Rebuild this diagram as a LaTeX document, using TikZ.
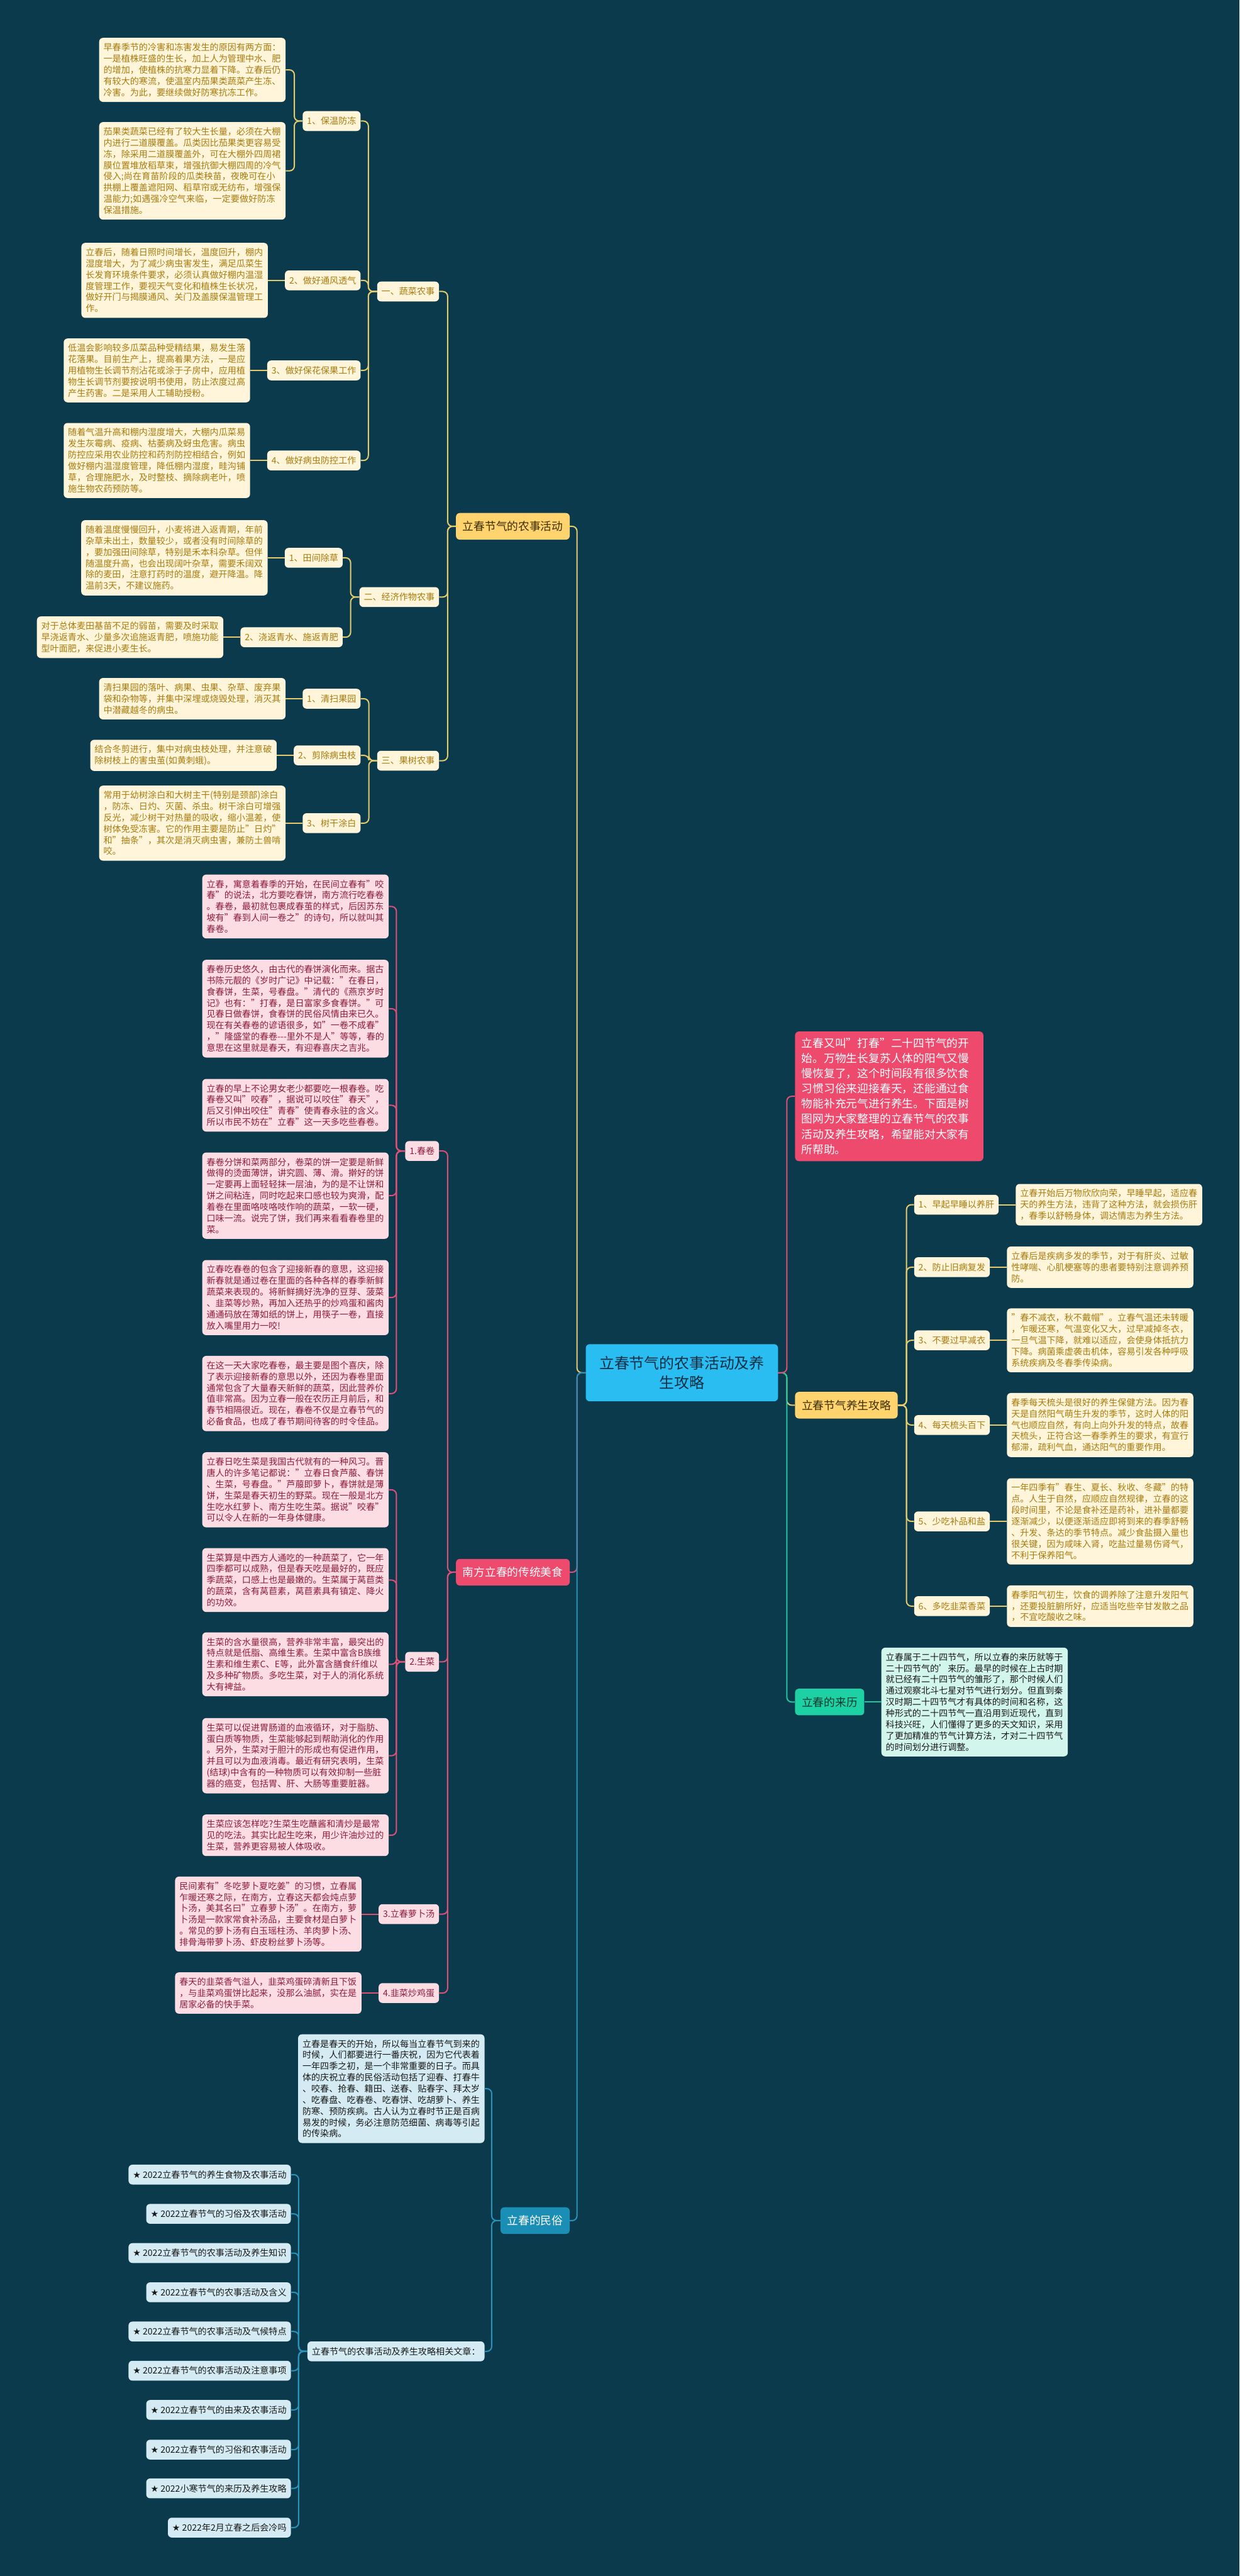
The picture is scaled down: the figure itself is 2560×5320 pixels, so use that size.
\documentclass[tikz,border=0pt]{standalone}
\usepackage{fontspec}
\setmainfont{Noto Sans CJK SC}
\newfontfamily\symf{DejaVu Sans}
\XeTeXlinebreaklocale "zh"
\XeTeXlinebreakskip=0pt plus 0.3pt
\newcount\cjkcnt
\cjkcnt="3000
\loop \XeTeXcharclass\cjkcnt=1 \advance\cjkcnt by 1 \ifnum\cjkcnt<"3040 \repeat
\cjkcnt="4E00
\loop \XeTeXcharclass\cjkcnt=1 \advance\cjkcnt by 1 \ifnum\cjkcnt<"A000 \repeat
\cjkcnt="FF00
\loop \XeTeXcharclass\cjkcnt=1 \advance\cjkcnt by 1 \ifnum\cjkcnt<"FFF0 \repeat
\XeTeXinterchartokenstate=1
\newcommand\cjkbrk{\hskip0pt plus 0.3pt\relax}
\XeTeXinterchartoks 1 1 = {\cjkbrk}
\XeTeXinterchartoks 0 1 = {\cjkbrk}
\XeTeXinterchartoks 1 0 = {\cjkbrk}
\usetikzlibrary{positioning}
\definecolor{bgc}{HTML}{0A3A4C}
\definecolor{cream}{HTML}{FEF5DA}
\definecolor{goldT}{HTML}{A77B0E}
\definecolor{lnYc}{HTML}{E5CB6B}
\definecolor{goldB}{HTML}{FFD36E}
\definecolor{brownT}{HTML}{3D2E00}
\definecolor{pinkB}{HTML}{EE4A6E}
\definecolor{pinkL}{HTML}{FDDDE4}
\definecolor{pinkT}{HTML}{8C1C3C}
\definecolor{lnPc}{HTML}{E04F76}
\definecolor{blueB}{HTML}{1A8EB4}
\definecolor{blueL}{HTML}{D4EBF3}
\definecolor{lnBc}{HTML}{2A93BA}
\definecolor{mintB}{HTML}{1ED1A5}
\definecolor{mintL}{HTML}{D2F5EC}
\definecolor{mintT}{HTML}{0B3A2E}
\definecolor{lnMc}{HTML}{20C79E}
\definecolor{cenB}{HTML}{2ABDF2}
\definecolor{cenT}{HTML}{0D2F45}
\newcommand\fsA{\fontsize{18.3pt}{23.2pt}\selectfont}
\newcommand\fsB{\fontsize{23pt}{31.2pt}\selectfont}
\newcommand\fsC{\fontsize{31pt}{40pt}\selectfont}
\tikzset{
  leafbase/.style={rounded corners=8pt, inner xsep=9pt, inner ysep=11pt, font=\fsA, text width=367pt, align=left},
  labbase/.style={rounded corners=8pt, inner xsep=9pt, inner ysep=3pt, minimum height=41pt, font=\fsA},
  cleaf/.style={leafbase, fill=cream, text=goldT},
  clab/.style={labbase, fill=cream, text=goldT},
  pleaf/.style={leafbase, fill=pinkL, text=pinkT},
  plab/.style={labbase, fill=pinkL, text=pinkT},
  bleaf/.style={leafbase, fill=blueL, text=black!90},
  blab/.style={labbase, fill=blueL, text=black!90},
  mleaf/.style={leafbase, fill=mintL, text=black!90},
  brnode/.style={rounded corners=8pt, inner xsep=14pt, inner ysep=3pt, minimum height=55pt, font=\fsB},
  lnY/.style={draw=lnYc, line width=2.6pt, rounded corners=10pt},
  lnP/.style={draw=lnPc, line width=2.6pt, rounded corners=10pt},
  lnB/.style={draw=lnBc, line width=2.6pt, rounded corners=10pt},
  lnM/.style={draw=lnMc, line width=2.6pt, rounded corners=10pt},
}
\begin{document}
\begin{tikzpicture}[x=1pt,y=-1pt]
\useasboundingbox (0,0) rectangle (2560,5320);
\fill[bgc] (0,0) rectangle (2560,5320);

% central
\node[fill=cenB, text=cenT, rounded corners=8pt, minimum width=397pt, minimum height=118pt, font=\fsC, align=center] (c) at (1408.5,2835) {立春节气的农事活动及养\\生攻略};

% ===== branch 1: 农事活动 =====
\node[brnode, fill=goldB, text=brownT, anchor=east] (nz) at (1177,1087) {立春节气的农事活动};
\node[clab, anchor=east] (n1) at (907,602) {一、蔬菜农事};
\node[clab, anchor=east] (n2) at (907,1233) {二、经济作物农事};
\node[clab, anchor=east] (n3) at (907,1571) {三、果树农事};
\node[clab, anchor=east] (l11) at (745,250) {1、保温防冻};
\node[clab, anchor=east] (l12) at (745,579) {2、做好通风透气};
\node[clab, anchor=east] (l13) at (745,765) {3、做好保花保果工作};
\node[clab, anchor=east] (l14) at (745,951) {4、做好病虫防控工作};
\node[clab, anchor=east] (l21) at (708,1152) {1、田间除草};
\node[clab, anchor=east] (l22) at (708,1316) {2、浇返青水、施返青肥};
\node[clab, anchor=east] (l31) at (745,1443) {1、清扫果园};
\node[clab, anchor=east] (l32) at (745,1560) {2、剪除病虫枝};
\node[clab, anchor=east] (l33) at (745,1700) {3、树干涂白};

\node[cleaf, anchor=north east] (a1) at (590,78) {早春季节的冷害和冻害发生的原因有两方面：一是植株旺盛的生长，加上人为管理中水、肥的增加，使植株的抗寒力显着下降。立春后仍有较大的寒流，使温室内茄果类蔬菜产生冻、冷害。为此，要继续做好防寒抗冻工作。};
\node[cleaf, anchor=north east] (a2) at (590,252) {茄果类蔬菜已经有了较大生长量，必须在大棚内进行二道膜覆盖。瓜类因比茄果类更容易受冻，除采用二道膜覆盖外，可在大棚外四周裙膜位置堆放稻草束，增强抗御大棚四周的冷气侵入;尚在育苗阶段的瓜类秧苗，夜晚可在小拱棚上覆盖遮阳网、稻草帘或无纺布，增强保温能力;如遇强冷空气来临，一定要做好防冻保温措施。};
\node[cleaf, left=35pt of l12] (a3) {立春后，随着日照时间增长，温度回升，棚内湿度增大，为了减少病虫害发生，满足瓜菜生长发育环境条件要求，必须认真做好棚内温湿度管理工作，要视天气变化和植株生长状况，做好开门与揭膜通风、关门及盖膜保温管理工作。};
\node[cleaf, left=35pt of l13] (a4) {低温会影响较多瓜菜品种受精结果，易发生落花落果。目前生产上，提高着果方法，一是应用植物生长调节剂沾花或涂于子房中，应用植物生长调节剂要按说明书使用，防止浓度过高产生药害。二是采用人工辅助授粉。};
\node[cleaf, left=35pt of l14] (a5) {随着气温升高和棚内湿度增大，大棚内瓜菜易发生灰霉病、疫病、枯萎病及蚜虫危害。病虫防控应采用农业防控和药剂防控相结合，例如做好棚内温湿度管理，降低棚内湿度，畦沟铺草，合理施肥水，及时整枝、摘除病老叶，喷施生物农药预防等。};
\node[cleaf, left=35pt of l21] (a6) {随着温度慢慢回升，小麦将进入返青期，年前杂草未出土，数量较少，或者没有时间除草的，要加强田间除草，特别是禾本科杂草。但伴随温度升高，也会出现阔叶杂草，需要禾阔双除的麦田，注意打药时的温度，避开降温。降温前3天，不建议施药。};
\node[cleaf, left=35pt of l22] (a7) {对于总体麦田基苗不足的弱苗，需要及时采取早浇返青水、少量多次追施返青肥，喷施功能型叶面肥，来促进小麦生长。};
\node[cleaf, left=35pt of l31] (a8) {清扫果园的落叶、病果、虫果、杂草、废弃果袋和杂物等，并集中深埋或烧毁处理，消灭其中潜藏越冬的病虫。};
\node[cleaf, left=35pt of l32] (a9) {结合冬剪进行，集中对病虫枝处理，并注意破除树枝上的害虫茧(如黄刺蛾)。};
\node[cleaf, left=35pt of l33] (a10) {常用于幼树涂白和大树主干(特别是颈部)涂白，防冻、日灼、灭菌、杀虫。树干涂白可增强反光，减少树干对热量的吸收，缩小温差，使树体免受冻害。它的作用主要是防止"日灼"和"抽条"，其次是消灭病虫害，兼防土兽啃咬。};

\foreach \n in {n1,n2,n3} \draw[lnY] (nz.west) -- ++(-17,0) |- (\n.east);
\foreach \n in {l11,l12,l13,l14} \draw[lnY] (n1.west) -- ++(-18,0) |- (\n.east);
\foreach \n in {l21,l22} \draw[lnY] (n2.west) -- ++(-18,0) |- (\n.east);
\foreach \n in {l31,l32,l33} \draw[lnY] (n3.west) -- ++(-17,0) |- (\n.east);
\foreach \n in {a1,a2} \draw[lnY] (l11.west) -- ++(-17,0) |- (\n.east);
\draw[lnY] (l12.west) -- (a3.east);
\draw[lnY] (l13.west) -- (a4.east);
\draw[lnY] (l14.west) -- (a5.east);
\draw[lnY] (l21.west) -- (a6.east);
\draw[lnY] (l22.west) -- (a7.east);
\draw[lnY] (l31.west) -- (a8.east);
\draw[lnY] (l32.west) -- (a9.east);
\draw[lnY] (l33.west) -- (a10.east);

% ===== branch 2: 美食 =====
\node[brnode, fill=pinkB, text=white, anchor=east] (nm) at (1177,3247) {南方立春的传统美食};
\node[plab, anchor=east] (m1) at (907,2377) {1.春卷};
\node[plab, anchor=east] (m2) at (907,3432) {2.生菜};
\node[plab, anchor=east] (m3) at (907,3953) {3.立春萝卜汤};
\node[plab, anchor=east] (m4) at (907,4116) {4.韭菜炒鸡蛋};

\node[pleaf, anchor=north east] (b1) at (803,1806) {立春，寓意着春季的开始，在民间立春有"咬春"的说法，北方要吃春饼，南方流行吃春卷。春卷，最初就包裹成春茧的样式，后因苏东坡有"春到人间一卷之"的诗句，所以就叫其春卷。};
\node[pleaf, anchor=north east] (b2) at (803,1982) {春卷历史悠久，由古代的春饼演化而来。据古书陈元靓的《岁时广记》中记载："在春日，食春饼，生菜，号春盘。"清代的《燕京岁时记》也有："打春，是日富家多食春饼。"可见春日做春饼，食春饼的民俗风情由来已久。现在有关春卷的谚语很多，如"一卷不成春"，"隆盛堂的春卷-{}-{}-里外不是人"等等，春的意思在这里就是春天，有迎春喜庆之吉兆。};
\node[pleaf, anchor=north east] (b3) at (803,2228) {立春的早上不论男女老少都要吃一根春卷。吃春卷又叫"咬春"，据说可以咬住"春天"，后又引伸出咬住"青春"使青春永驻的含义。所以市民不妨在"立春"这一天多吃些春卷。};
\node[pleaf, anchor=north east] (b4) at (803,2380) {春卷分饼和菜两部分，卷菜的饼一定要是新鲜做得的烫面薄饼，讲究圆、薄、滑。擀好的饼一定要再上面轻轻抹一层油，为的是不让饼和饼之间粘连，同时吃起来口感也较为爽滑，配着卷在里面咯吱咯吱作响的蔬菜，一软一硬，口味一流。说完了饼，我们再来看看春卷里的菜。};
\node[pleaf, anchor=north east] (b5) at (803,2602) {立春吃春卷的包含了迎接新春的意思，这迎接新春就是通过卷在里面的各种各样的春季新鲜蔬菜来表现的。将新鲜摘好洗净的豆芽、菠菜、韭菜等炒熟，再加入还热乎的炒鸡蛋和酱肉通通码放在薄如纸的饼上，用筷子一卷，直接放入嘴里用力一咬!};
\node[pleaf, anchor=north east] (b6) at (803,2800) {在这一天大家吃春卷，最主要是图个喜庆，除了表示迎接新春的意思以外，还因为春卷里面通常包含了大量春天新鲜的蔬菜，因此营养价值非常高。因为立春一般在农历正月前后，和春节相隔很近。现在，春卷不仅是立春节气的必备食品，也成了春节期间待客的时令佳品。};
\node[pleaf, anchor=north east] (b7) at (803,2999) {立春日吃生菜是我国古代就有的一种风习。晋唐人的许多笔记都说："立春日食芦菔、春饼、生菜，号春盘。"芦菔即萝卜，春饼就是薄饼，生菜是春天初生的野菜。现在一般是北方生吃水红萝卜、南方生吃生菜。据说"咬春"可以令人在新的一年身体健康。};
\node[pleaf, anchor=north east] (b8) at (803,3197) {生菜算是中西方人通吃的一种蔬菜了，它一年四季都可以成熟，但是春天吃是最好的，既应季蔬菜，口感上也是最嫩的。生菜属于莴苣类的蔬菜，含有莴苣素，莴苣素具有镇定、降火的功效。};
\node[pleaf, anchor=north east] (b9) at (803,3371) {生菜的含水量很高，营养非常丰富，最突出的特点就是低脂、高维生素。生菜中富含B族维生素和维生素C、E等，此外富含膳食纤维以及多种矿物质。多吃生菜，对于人的消化系统大有裨益。};
\node[pleaf, anchor=north east] (b10) at (803,3548) {生菜可以促进胃肠道的血液循环，对于脂肪、蛋白质等物质，生菜能够起到帮助消化的作用。另外，生菜对于胆汁的形成也有促进作用，并且可以为血液消毒。最近有研究表明，生菜(结球)中含有的一种物质可以有效抑制一些脏器的癌变，包括胃、肝、大肠等重要脏器。};
\node[pleaf, anchor=north east] (b11) at (803,3747) {生菜应该怎样吃?生菜生吃蘸酱和清炒是最常见的吃法。其实比起生吃来，用少许油炒过的生菜，营养更容易被人体吸收。};
\node[pleaf, left=35pt of m3] (b12) {民间素有"冬吃萝卜夏吃姜"的习惯，立春属乍暖还寒之际，在南方，立春这天都会炖点萝卜汤，美其名曰"立春萝卜汤"。在南方，萝卜汤是一款家常食补汤品，主要食材是白萝卜。常见的萝卜汤有白玉瑶柱汤、羊肉萝卜汤、排骨海带萝卜汤、虾皮粉丝萝卜汤等。};
\node[pleaf, left=35pt of m4] (b13) {春天的韭菜香气溢人，韭菜鸡蛋碎清新且下饭，与韭菜鸡蛋饼比起来，没那么油腻，实在是居家必备的快手菜。};

\foreach \n in {m1,m2,m3,m4} \draw[lnP] (nm.west) -- ++(-17,0) |- (\n.east);
\foreach \n in {b1,b2,b3,b4,b5,b6} \draw[lnP] (m1.west) -- ++(-18,0) |- (\n.east);
\foreach \n in {b7,b8,b9,b10,b11} \draw[lnP] (m2.west) -- ++(-18,0) |- (\n.east);
\draw[lnP] (m3.west) -- (b12.east);
\draw[lnP] (m4.west) -- (b13.east);

% ===== branch 3: 民俗 =====
\node[brnode, fill=blueB, text=white, anchor=east] (ms) at (1177,4586) {立春的民俗};
\node[bleaf, anchor=north east] (s1) at (1001,4201) {立春是春天的开始，所以每当立春节气到来的时候，人们都要进行一番庆祝，因为它代表着一年四季之初，是一个非常重要的日子。而具体的庆祝立春的民俗活动包括了迎春、打春牛、咬春、抢春、籍田、送春、贴春字、拜太岁、吃春盘、吃春卷、吃春饼、吃胡萝卜、养生防寒、预防疾病。古人认为立春时节正是百病易发的时候，务必注意防范细菌、病毒等引起的传染病。};
\node[blab, anchor=east] (s2) at (1001,4856) {立春节气的农事活动及养生攻略相关文章：};
\node[blab, anchor=east] (r1) at (601,4491) {{\symf ★} 2022立春节气的养生食物及农事活动};
\node[blab, anchor=east] (r2) at (601,4572) {{\symf ★} 2022立春节气的习俗及农事活动};
\node[blab, anchor=east] (r3) at (601,4653) {{\symf ★} 2022立春节气的农事活动及养生知识};
\node[blab, anchor=east] (r4) at (601,4734) {{\symf ★} 2022立春节气的农事活动及含义};
\node[blab, anchor=east] (r5) at (601,4815) {{\symf ★} 2022立春节气的农事活动及气候特点};
\node[blab, anchor=east] (r6) at (601,4896) {{\symf ★} 2022立春节气的农事活动及注意事项};
\node[blab, anchor=east] (r7) at (601,4977) {{\symf ★} 2022立春节气的由来及农事活动};
\node[blab, anchor=east] (r8) at (601,5059) {{\symf ★} 2022立春节气的习俗和农事活动};
\node[blab, anchor=east] (r9) at (601,5139) {{\symf ★} 2022小寒节气的来历及养生攻略};
\node[blab, anchor=east] (r10) at (601,5220) {{\symf ★} 2022年2月立春之后会冷吗};

\foreach \n in {s1,s2} \draw[lnB] (ms.west) -- ++(-18,0) |- (\n.east);
\foreach \n in {r1,r2,r3,r4,r5,r6,r7,r8,r9,r10} \draw[lnB] (s2.west) -- ++(-18,0) |- (\n.east);

% ===== right side =====
\node[fill=pinkB, text=white, rounded corners=8pt, inner xsep=13.5pt, inner ysep=14pt, text width=362pt, align=left, font=\fsB, anchor=north west] (intro) at (1642,2130) {立春又叫"打春"二十四节气的开始。万物生长复苏人体的阳气又慢慢恢复了，这个时间段有很多饮食习惯习俗来迎接春天，还能通过食物能补充元气进行养生。下面是树图网为大家整理的立春节气的农事活动及养生攻略，希望能对大家有所帮助。};
\node[brnode, fill=goldB, text=brownT, anchor=west] (ys) at (1642,2902) {立春节气养生攻略};
\node[brnode, fill=mintB, text=mintT, anchor=west] (ly) at (1642,3515) {立春的来历};
\node[mleaf, right=35pt of ly] (lyl) {立春属于二十四节气，所以立春的来历就等于二十四节气的'来历。最早的时候在上古时期就已经有二十四节气的雏形了，那个时候人们通过观察北斗七星对节气进行划分。但直到秦汉时期二十四节气才有具体的时间和名称，这种形式的二十四节气一直沿用到近现代，直到科技兴旺，人们懂得了更多的天文知识，采用了更加精准的节气计算方法，才对二十四节气的时间划分进行调整。};

\node[clab, anchor=west] (y1) at (1888,2488) {1、早起早睡以养肝};
\node[clab, anchor=west] (y2) at (1888,2617) {2、防止旧病复发};
\node[clab, anchor=west] (y3) at (1888,2768) {3、不要过早减衣};
\node[clab, anchor=west] (y4) at (1888,2943) {4、每天梳头百下};
\node[clab, anchor=west] (y5) at (1888,3142) {5、少吃补品和盐};
\node[clab, anchor=west] (y6) at (1888,3317) {6、多吃韭菜香菜};
\node[cleaf, right=35pt of y1] (g1) {立春开始后万物欣欣向荣，早睡早起，适应春天的养生方法，违背了这种方法，就会损伤肝，春季以舒畅身体，调达情志为养生方法。};
\node[cleaf, right=35pt of y2] (g2) {立春后是疾病多发的季节，对于有肝炎、过敏性哮喘、心肌梗塞等的患者要特别注意调养预防。};
\node[cleaf, right=35pt of y3] (g3) {"春不减衣，秋不戴帽"。立春气温还未转暖，乍暖还寒，气温变化又大，过早减掉冬衣，一旦气温下降，就难以适应，会使身体抵抗力下降。病菌乘虚袭击机体，容易引发各种呼吸系统疾病及冬春季传染病。};
\node[cleaf, right=35pt of y4] (g4) {春季每天梳头是很好的养生保健方法。因为春天是自然阳气萌生升发的季节，这时人体的阳气也顺应自然，有向上向外升发的特点，故春天梳头，正符合这一春季养生的要求，有宣行郁滞，疏利气血，通达阳气的重要作用。};
\node[cleaf, right=35pt of y5] (g5) {一年四季有"春生、夏长、秋收、冬藏"的特点。人生于自然，应顺应自然规律，立春的这段时间里，不论是食补还是药补，进补量都要逐渐减少，以便逐渐适应即将到来的春季舒畅、升发、条达的季节特点。减少食盐摄入量也很关键，因为咸味入肾，吃盐过量易伤肾气，不利于保养阳气。};
\node[cleaf, right=35pt of y6] (g6) {春季阳气初生，饮食的调养除了注意升发阳气，还要投脏腑所好，应适当吃些辛甘发散之品，不宜吃酸收之味。};

\foreach \n in {y1,y2,y3,y4,y5,y6} \draw[lnY] (ys.east) -- ++(18,0) |- (\n.west);
\foreach \i in {1,...,6} \draw[lnY] (y\i.east) -- (g\i.west);
\draw[lnM] (ly.east) -- (lyl.west);

% ===== main connectors =====
\draw[lnY] (c.west) -- ++(-18,0) |- (nz.east);
\draw[lnP] (c.west) -- ++(-18,0) |- (nm.east);
\draw[lnB] (c.west) -- ++(-18,0) |- (ms.east);
\draw[lnY] (c.east) -- ++(18,0) |- (ys.west);
\draw[lnM] (c.east) -- ++(18,0) |- (ly.west);
\draw[lnP] (c.east) -- ++(18,0) |- (intro.west);
\end{tikzpicture}
\end{document}
